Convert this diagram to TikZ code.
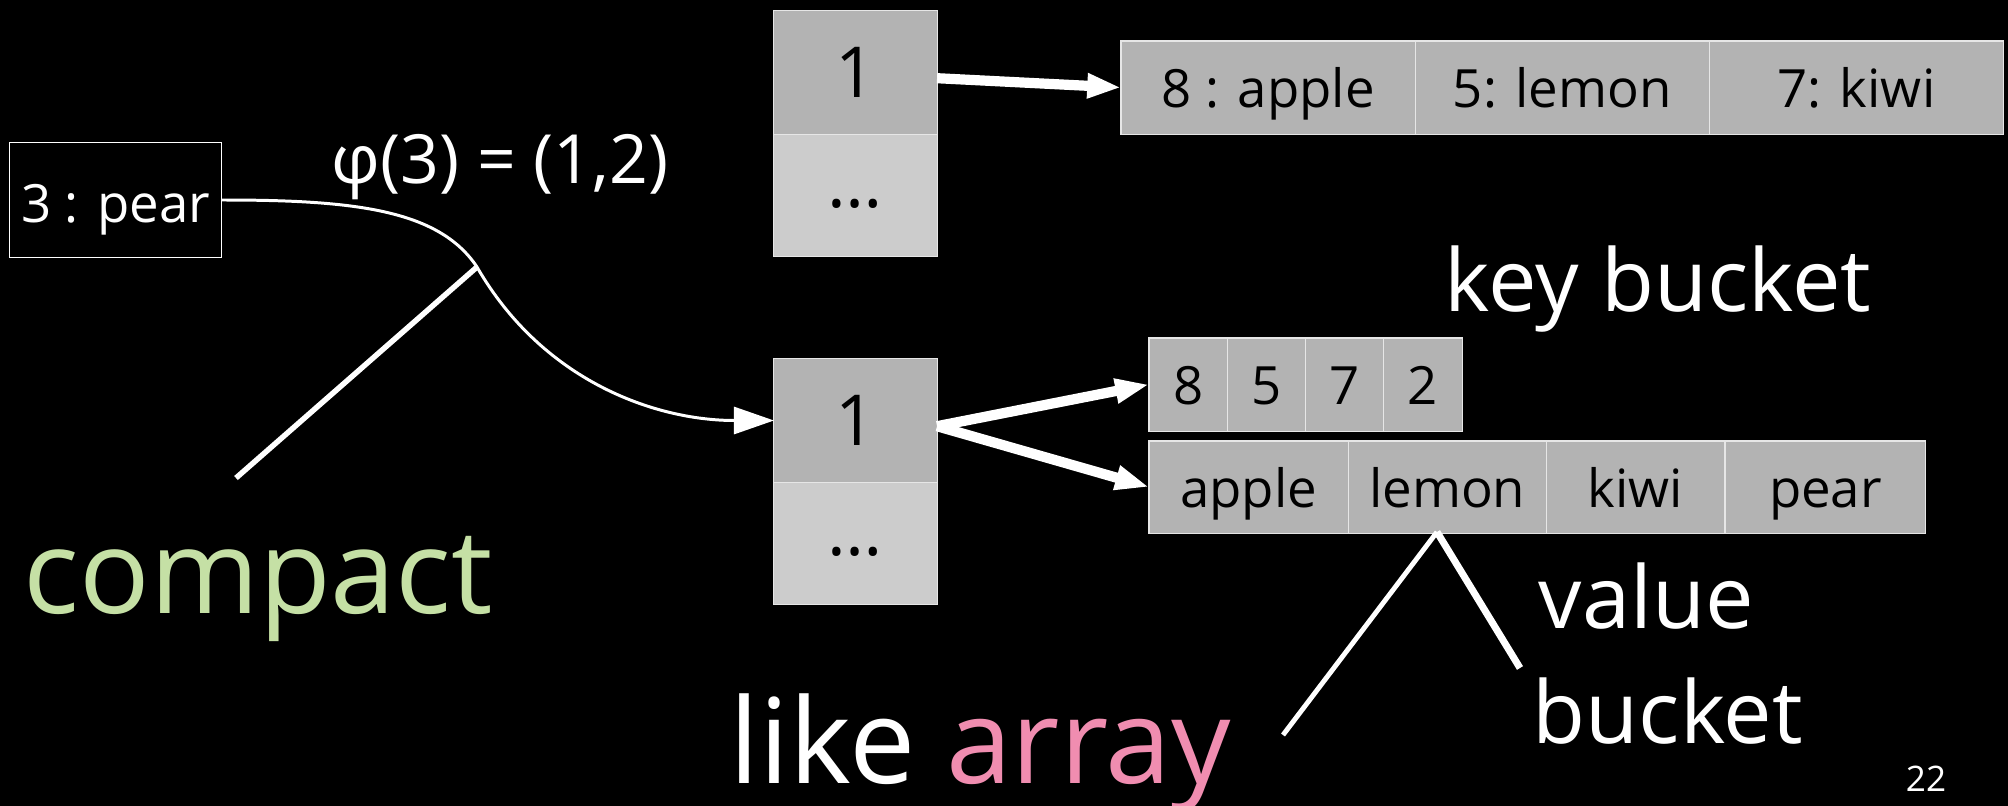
\documentclass[tikz,border=0pt]{standalone}
\usepackage{fontspec}
\setmainfont{Open Sans}
\usetikzlibrary{positioning,arrows.meta}

\definecolor{cellgray}{HTML}{B3B3B3}
\definecolor{cellpale}{HTML}{CCCCCC}
\definecolor{cellline}{HTML}{E6E6E6}
\definecolor{compactgreen}{HTML}{C5E0A5}
\definecolor{arraypink}{HTML}{F08DB0}

\tikzset{
  cell/.style={draw=cellline, line width=0.3pt, fill=cellgray, inner sep=0pt, outer sep=0pt,
    minimum height=0.93cm, text height=11.5pt, text depth=0pt, font=\fontsize{15}{18}\selectfont},
  slot/.style={draw=cellline, line width=0.3pt, inner sep=0pt, outer sep=0pt,
    minimum width=1.63cm, font=\fontsize{20}{24}\selectfont},
  bigarrow/.style={white, line width=2.9pt, -{Triangle[length=9.6pt,width=6.6pt]}},
  note/.style={anchor=base west, inner sep=0pt, text=white},
}

\begin{document}
\begin{tikzpicture}[x=0.01cm, y=-0.01cm]
  % black slide
  \path[use as bounding box, fill=black] (0,0) rectangle (2008,806);

  % the pair to insert and its hash
  \node[draw=white, line width=0.3pt, fill=black, text=white, minimum width=2.11cm,
    minimum height=1.14cm, text height=12.6pt, text depth=0pt,
    font=\fontsize{15}{18}\selectfont] (pear) at (115.5,200) {3 : pear};
  \node[text=white, font=\fontsize{19.3}{23}\selectfont] (phi) at (500,167) {φ(3) = (1,2)};

  % bucket table, plain layout
  \node[slot, fill=cellgray, minimum height=1.23cm] (tA1) at (855.5,72.5) {1};
  \node[slot, fill=cellpale, minimum height=1.22cm, text height=6.8pt, text depth=0pt,
    below=0pt of tA1] (tA2) {\dots};

  \node[cell, minimum width=2.94cm, anchor=west] (r1) at (1121,87.5) {8 : apple};
  \node[cell, minimum width=2.94cm, right=0pt of r1] (r2) {5: lemon};
  \node[cell, minimum width=2.94cm, right=0pt of r2] (r3) {7: kiwi};
  \draw[bigarrow] (tA1.-4) -- (r1.west);

  % bucket table, split keys and values
  \node[slot, fill=cellgray, minimum height=1.23cm] (tB1) at (855.5,420.5) {1};
  \node[slot, fill=cellpale, minimum height=1.22cm, text height=6.8pt, text depth=0pt,
    below=0pt of tB1] (tB2) {\dots};

  \node[cell, minimum width=0.7825cm, anchor=west] (k1) at (1149,384.5) {8};
  \node[cell, minimum width=0.7825cm, right=0pt of k1] (k2) {5};
  \node[cell, minimum width=0.7825cm, right=0pt of k2] (k3) {7};
  \node[cell, minimum width=0.7825cm, right=0pt of k3] (k4) {2};

  \node[cell, minimum width=1.99cm, minimum height=0.92cm, anchor=west] (v1) at (1149,487) {apple};
  \node[cell, minimum width=1.98cm, minimum height=0.92cm, right=0pt of v1] (v2) {lemon};
  \node[cell, minimum width=1.78cm, minimum height=0.92cm, right=0pt of v2] (v3) {kiwi};
  \node[cell, minimum width=2cm, minimum height=0.92cm, right=0.01cm of v3] (v4) {pear};

  \draw[bigarrow] (tB1.-4) -- (k1.west);
  \draw[bigarrow] (tB1.-4) -- (v1.west);

  % hash goes to bucket 1
  \coordinate (hit) at (477,267);
  \draw[white, line width=0.85pt, -{Triangle[length=11.4pt,width=7.7pt]}]
    (pear.east) .. controls +(130,0) and +(-38.5,-58) .. (hit)
    .. controls +(65,113) and +(-120,0) .. (tB1.west);

  % pointer lines to the captions
  \coordinate (cfoot) at (236,478);
  \draw[white, line width=1.55pt] (cfoot) -- (hit);

  \coordinate (vtip) at (1437,532);
  \coordinate (afoot) at (1283,735);
  \coordinate (bfoot) at (1520,668);
  \draw[white, line width=1.4pt] (afoot) -- (vtip);
  \draw[white, line width=2pt] (vtip) -- (bfoot);

  % captions
  \node[note, text=compactgreen, font=\fontsize{33.3}{40}\selectfont] (compact) at (23,613) {compact};
  \node[note, font=\fontsize{33.6}{40}\selectfont] (like) at (729,783) {like \textcolor{arraypink}{array}};
  \node[note, font=\fontsize{24.6}{29}\selectfont] (keyb) at (1444,311) {key bucket};
  \node[note, font=\fontsize{24.6}{29}\selectfont] (valb) at (1538,628) {value};
  \node[note, font=\fontsize{24.6}{29}\selectfont] (bucketb) at (1532,743) {bucket};
  \node[anchor=base, inner sep=0pt, text=white, font=\fontsize{10}{12}\selectfont] (page) at (1926,791) {22};
\end{tikzpicture}
\end{document}
